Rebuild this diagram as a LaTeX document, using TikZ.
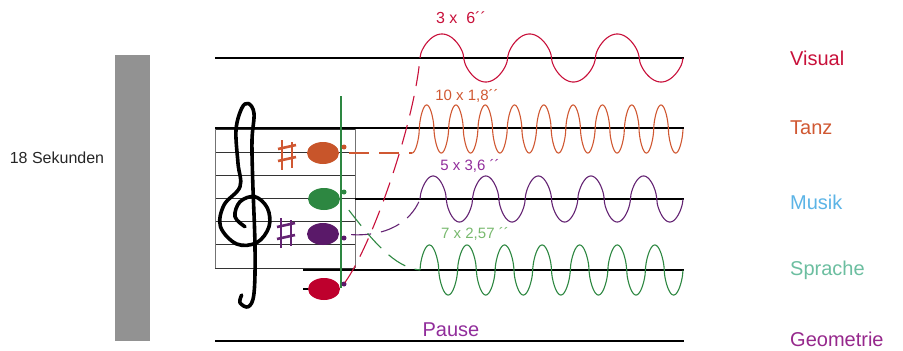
\documentclass[tikz,border=0pt]{standalone}
\usepackage{fontspec}
\setmainfont{Liberation Sans}
\usepackage{tikz}
\usetikzlibrary{shapes.geometric,positioning}

\definecolor{visred}{RGB}{200,16,58}
\definecolor{tanzor}{RGB}{208,88,50}
\definecolor{musblue}{RGB}{92,180,230}
\definecolor{sprgreen}{RGB}{108,190,160}
\definecolor{geopurple}{RGB}{150,40,140}
\definecolor{notered}{RGB}{190,0,45}
\definecolor{noteorange}{RGB}{200,85,42}
\definecolor{notegreen}{RGB}{45,135,65}
\definecolor{notepurple}{RGB}{90,25,105}
\definecolor{wavepurple}{RGB}{100,35,115}
\definecolor{labpurple}{RGB}{145,45,155}
\definecolor{labgreen}{RGB}{120,185,110}
\definecolor{bargray}{RGB}{146,146,146}

\begin{document}
\begin{tikzpicture}[
    x=1pt, y=-1pt,
    declare function={arch(\t)=sign(sin(\t))*(abs(sin(\t))+0.0001)^0.6;},
    staffline/.style={line width=1.6pt, black},
    thinline/.style={line width=1pt, black!80},
    notehead/.style={ellipse, fill=#1, minimum width=32pt, minimum height=22pt, inner sep=0pt},
    notedot/.style={circle, fill=#1, minimum size=5pt, inner sep=0pt},
    wave/.style={line width=1.1pt, color=#1},
    link/.style={line width=1.1pt, color=#1, dash pattern=on 20pt off 10pt},
    cat/.style={font=\fontsize{20}{23}\selectfont, text=#1, anchor=west, inner sep=1pt},
    times/.style={font=\fontsize{15}{18}\selectfont, text=#1},
    sharpsign/.pic={
        \draw[line width=1.3pt] (-5,-15) -- (-5,15);
        \draw[line width=1.3pt] (5,-13) -- (5,13);
        \draw[line width=2.6pt] (-9,-6) -- (9,-10);
        \draw[line width=2.6pt] (-9,6) -- (9,2);
    }
]
    \useasboundingbox (0,0) rectangle (903,351);

    % time bar
    \fill[bargray] (115,55) rectangle (150,341);
    \node[font=\fontsize{16}{19}\selectfont, text=black!85] (dur) at (57,158) {18 Sekunden};

    % staff box
    \foreach \k in {0,...,6}
        \draw[thinline] (215,{129+23.17*\k}) -- (355,{129+23.17*\k});
    \draw[thinline, black!55] (215,129) -- (215,268);
    \draw[thinline, black!55] (355,129) -- (355,268);

    % long lines
    \foreach \yy in {58,128,341}
        \draw[staffline] (215,\yy) -- (684,\yy);
    \draw[staffline] (355,199) -- (684,199);
    \draw[staffline] (303,270) -- (684,270);
    \draw[staffline] (303,289) -- (325,289);

    % treble clef
    \draw[line width=3.6pt, line cap=round, line join=round] plot[smooth, tension=0.6] coordinates {
        (245,226.7) (235,216.7) (240,201.7) (255,196.7) (267.5,208.3) (269,226.7)
        (257,242.5) (236.7,244) (220.5,226.7) (224,205) (240,186.7) (238,163.3)
        (236,130) (241.7,108.3) (248.3,103.5) (254,113.3) (252,140) (252.7,180)
        (255,246.7) (254,293.3) (248.3,306.7) (240,302.7) (241.7,295)};

    % sharps
    \pic[tanzor] at (287,155) {sharpsign};
    \pic[wavepurple] at (286,233) {sharpsign};

    % notes
    \node[notehead=noteorange] (noteT) at (323,153) {};
    \node[notehead=notegreen]  (noteS) at (324,199) {};
    \node[notehead=notepurple] (noteM) at (323,234) {};
    \node[notehead=notered]    (noteV) at (324,289) {};
    \draw[notegreen, line width=2pt] (341,96) -- (341,288);
    \node[notedot=noteorange] (dotT) at (344,147) {};
    \node[notedot=notegreen]  (dotS) at (344,192) {};
    \node[notedot=notepurple] (dotM) at (344,238) {};
    \node[notedot=notepurple] (dotV) at (344,284) {};

    % wave starts
    \coordinate (visStart) at (420,58);
    \coordinate (tanzStart) at (412,153);
    \coordinate (musStart) at (420,199);
    \coordinate (sprStart) at (420,270);

    % dashed links
    \draw[link=visred, shorten <=8pt] (noteV.east) .. controls (372,245) and (414,125) .. (visStart);
    \draw[link=tanzor, shorten <=10pt] (noteT.east) -- (tanzStart);
    \draw[link=wavepurple, shorten <=12pt] (noteM.east) .. controls (395,237) and (414,215) .. (musStart);
    \draw[link=notegreen, shorten <=14pt] (noteS.east) .. controls (372,240) and (395,268) .. (sprStart);

    % waves
    \draw[wave=visred] plot[domain=0:263, samples=300] ({420+\x},{58-24*arch(\x/263*1080)});
    \draw[wave=tanzor] plot[domain=0:271, samples=700] ({412+\x},{129+24*arch(\x/271*3330+90)});
    \draw[wave=wavepurple] plot[domain=0:263, samples=400] ({420+\x},{199-23*arch(\x/263*1800)});
    \draw[wave=notegreen] plot[domain=0:263, samples=500] ({420+\x},{270-25*arch(\x/263*2520)});

    % counts
    \node[times=visred, font=\fontsize{16}{19}\selectfont] (cntV) at (461,18) {3 x\ \ 6´´};
    \node[times=tanzor] (cntT) at (467,96) {10 x 1,8´´};
    \node[times=labpurple] (cntM) at (470,166) {5 x 3,6 ´´};
    \node[times=labgreen] (cntS) at (475,234) {7 x 2,57 ´´};
    \node[font=\fontsize{20}{23}\selectfont, text=labpurple] (pause) at (451,330) {Pause};

    % categories
    \node[cat=visred]    (visual) at (789,58)  {Visual};
    \node[cat=tanzor]    (tanz)   at (789,128) {Tanz};
    \node[cat=musblue]   (musik)  at (789,202) {Musik};
    \node[cat=sprgreen]  (sprache) at (789,270) {Sprache};
    \node[cat=geopurple] (geo)    at (789,339) {Geometrie};

\end{tikzpicture}
\end{document}
